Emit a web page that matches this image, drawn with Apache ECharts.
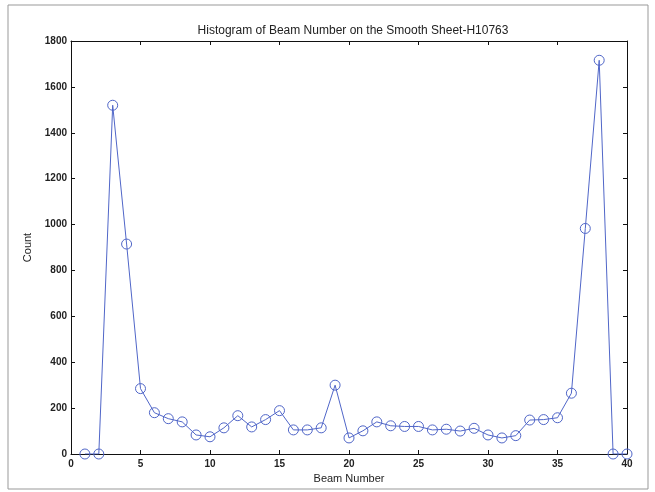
<!DOCTYPE html>
<html>
<head>
<meta charset="utf-8">
<script src="https://cdn.jsdelivr.net/npm/echarts@6/dist/echarts.min.js"></script>
<style>
  html, body { margin: 0; padding: 0; background: #fff; }
  #main { width: 655px; height: 492px; }
</style>
</head>
<body>
<div id="main"></div>
<script>
const beams = [1, 2, 3, 4, 5, 6, 7, 8, 9, 10, 11, 12, 13, 14, 15, 16, 17, 18, 19, 20,
  21, 22, 23, 24, 25, 26, 27, 28, 29, 30, 31, 32, 33, 34, 35, 36, 37, 38, 39, 40];
const counts = [0, 0, 1520, 915, 285, 180, 154, 140, 83, 75, 114, 167, 118, 150, 189, 105, 105, 114, 300, 70,
  101, 140, 123, 120, 120, 105, 108, 100, 112, 83, 70, 80, 148, 150, 158, 265, 983, 1716, 0, 0];
const xTicks = [0, 5, 10, 15, 20, 25, 30, 35, 40];
const yTicks = [0, 200, 400, 600, 800, 1000, 1200, 1400, 1600, 1800];

const textColor = "#222";
const font = "Liberation Sans, Arial, sans-serif";
const lineColor = "#5066c8";

const main_element = document.getElementById("main");
const chart = echarts.init(main_element);

const axisBase = {
  axisLine: { show: true, onZero: false, lineStyle: { color: "#111", width: 1 } },
  axisTick: { show: true, inside: true, length: 4, lineStyle: { color: "#111" } },
  splitLine: { show: false },
};

let data = [];
for (let i = 0; i < beams.length; ++i) {
  data.push([beams[i], counts[i]]);
}

chart.setOption({
  animation: false,
  backgroundColor: "#fff",
  title: {
    text: "Histogram of Beam Number on the Smooth Sheet-H10763",
    left: 348, top: 20, textAlign: "center",
    textStyle: { fontFamily: font, fontSize: 12, fontWeight: "normal", color: textColor },
  },
  graphic: [{
    type: "rect",
    shape: { x: 8, y: 5, width: 640, height: 484 },
    style: { fill: "none", stroke: "#999", lineWidth: 1 },
    silent: true,
  }],
  grid: { left: 71, right: 28, top: 41, bottom: 38 },
  xAxis: [
    Object.assign({}, axisBase, {
      type: "value", min: xTicks[0], max: xTicks[xTicks.length - 1], interval: 5,
      name: "Beam Number", nameLocation: "middle", nameGap: 18,
      nameTextStyle: { fontFamily: font, fontSize: 11, color: textColor },
      axisLabel: { fontFamily: font, fontSize: 10, fontWeight: "bold", color: textColor, margin: 5 },
    }),
    Object.assign({}, axisBase, {
      type: "value", position: "top", min: xTicks[0], max: xTicks[xTicks.length - 1], interval: 5,
      axisLabel: { show: false },
    }),
  ],
  yAxis: [
    Object.assign({}, axisBase, {
      type: "value", min: yTicks[0], max: yTicks[yTicks.length - 1], interval: 200,
      name: "Count", nameLocation: "middle", nameGap: 33,
      nameTextStyle: { fontFamily: font, fontSize: 11, color: textColor },
      axisLabel: {
        fontFamily: font, fontSize: 10, fontWeight: "bold", color: textColor, margin: 4,
        formatter: function (v) { return String(v); },
      },
    }),
    Object.assign({}, axisBase, {
      type: "value", position: "right", min: yTicks[0], max: yTicks[yTicks.length - 1], interval: 200,
      axisLabel: { show: false },
    }),
  ],
  series: [{
    type: "line",
    data: data,
    symbol: "circle",
    symbolSize: 10,
    showAllSymbol: true,
    lineStyle: { color: lineColor, width: 1 },
    itemStyle: { color: "transparent", borderColor: lineColor, borderWidth: 1 },
  }],
});
</script>
</body>
</html>
